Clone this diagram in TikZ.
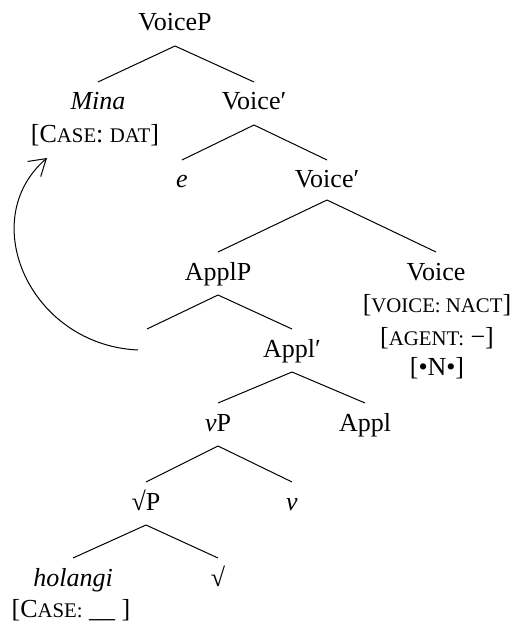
\documentclass[tikz,border=0pt]{standalone}
\usepackage{fontspec}
\setmainfont{Liberation Serif}
\usetikzlibrary{calc,arrows.meta}
\newcommand\fsc[1]{{\fontsize{10.4}{12}\selectfont #1}}
\newcommand\treeedge[2]{\draw[br] ($(#1.base)+(0,15)$) -- ($(#2.base)+(0,-28)$);}
\begin{document}
\begin{tikzpicture}[x=0.5pt,y=-0.5pt,
  lab/.style={inner sep=0pt, anchor=base, font=\fontsize{13}{15}\selectfont},
  br/.style={draw, line width=0.5pt}]
\useasboundingbox (0,0) rectangle (515,625);
\node[lab] (voicep) at (175,31) {VoiceP};
\node[lab] (mina) at (98,110) {\textit{Mina}};
\node[lab] (mcase) at (95,143) {[C\fsc{ASE}: \fsc{DAT}]};
\node[lab] (vbar1) at (254,110) {Voice′};
\node[lab] (e) at (182,188) {\textit{e}};
\node[lab] (vbar2) at (327,188) {Voice′};
\node[lab] (applp) at (218,280) {ApplP};
\node[lab] (voice) at (436,280) {Voice};
\node[lab] (vf1) at (437,313) {[\fsc{VOICE: NACT}]};
\node[lab] (vf2) at (437,345) {[\fsc{AGENT:} −]};
\node[lab] (vf3) at (437,375) {[•N•]};
\node[lab] (t) at (147,357) {};
\node[lab] (applbar) at (292,357) {Appl′};
\node[lab] (vp) at (218,431) {\textit{v}P};
\node[lab] (appl) at (365,431) {Appl};
\node[lab] (rootp) at (146,510) {√P};
\node[lab] (v) at (292,510) {\textit{v}};
\node[lab] (hol) at (73,586) {\textit{holangi}};
\node[lab] (hcase) at (71,617) {[C\fsc{ASE:} \_\_ ]};
\node[lab] (root) at (218,586) {√};
\treeedge{voicep}{mina}
\treeedge{voicep}{vbar1}
\treeedge{vbar1}{e}
\treeedge{vbar1}{vbar2}
\draw[br] ($(vbar2.base)+(0,12)$) -- ($(applp.base)+(0,-28)$);
\draw[br] ($(vbar2.base)+(0,12)$) -- ($(voice.base)+(0,-28)$);
\treeedge{applp}{t}
\treeedge{applp}{applbar}
\treeedge{applbar}{vp}
\treeedge{applbar}{appl}
\treeedge{vp}{rootp}
\treeedge{vp}{v}
\treeedge{rootp}{hol}
\treeedge{rootp}{root}
\coordinate (tip) at ($(mcase.base)+(-48,15)$);
\draw[br, -{Straight Barb[length=8pt,width=10pt]}] ($(t.base)+(-9,-7)$) .. controls +(-108,-5) and +(-72,62) .. (tip);
\end{tikzpicture}
\end{document}
